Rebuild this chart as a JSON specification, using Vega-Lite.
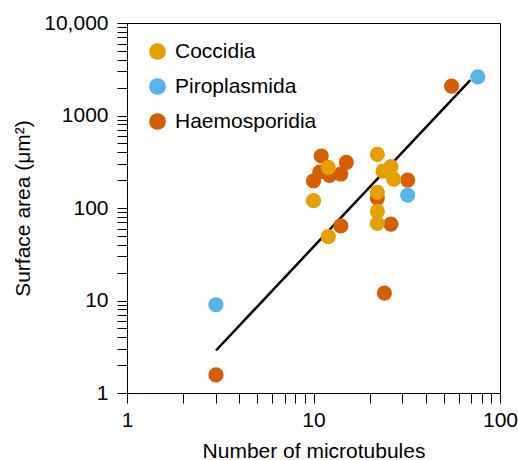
{
  "$schema": "https://vega.github.io/schema/vega-lite/v6.json",
  "width": 373,
  "height": 370,
  "autosize": {"type": "none"},
  "padding": {"left": 127, "top": 23, "right": 18, "bottom": 67},
  "background": "white",
  "config": {
    "font": "Liberation Sans",
    "view": {"stroke": "black", "strokeWidth": 1},
    "axis": {
      "domainColor": "black",
      "tickColor": "black",
      "labelColor": "black",
      "titleColor": "black",
      "labelFontSize": 21,
      "titleFontSize": 21,
      "titleFontWeight": "normal",
      "grid": false,
      "labelFont": "Liberation Sans",
      "titleFont": "Liberation Sans"
    }
  },
  "datasets": {
    "points": [
      {"microtubules": 11, "area": 365, "group": "Haemosporidia"},
      {"microtubules": 15, "area": 312, "group": "Haemosporidia"},
      {"microtubules": 10, "area": 196, "group": "Haemosporidia"},
      {"microtubules": 10.8, "area": 245, "group": "Haemosporidia"},
      {"microtubules": 12.2, "area": 225, "group": "Haemosporidia"},
      {"microtubules": 14, "area": 233, "group": "Haemosporidia"},
      {"microtubules": 14, "area": 64, "group": "Haemosporidia"},
      {"microtubules": 26, "area": 67, "group": "Haemosporidia"},
      {"microtubules": 24, "area": 12, "group": "Haemosporidia"},
      {"microtubules": 32, "area": 200, "group": "Haemosporidia"},
      {"microtubules": 22, "area": 128, "group": "Haemosporidia"},
      {"microtubules": 55, "area": 2080, "group": "Haemosporidia"},
      {"microtubules": 3, "area": 1.57, "group": "Haemosporidia"},
      {"microtubules": 12, "area": 275, "group": "Coccidia"},
      {"microtubules": 10, "area": 120, "group": "Coccidia"},
      {"microtubules": 12, "area": 49, "group": "Coccidia"},
      {"microtubules": 22, "area": 380, "group": "Coccidia"},
      {"microtubules": 23.6, "area": 250, "group": "Coccidia"},
      {"microtubules": 26, "area": 280, "group": "Coccidia"},
      {"microtubules": 26.9, "area": 205, "group": "Coccidia"},
      {"microtubules": 22, "area": 148, "group": "Coccidia"},
      {"microtubules": 22, "area": 92, "group": "Coccidia"},
      {"microtubules": 22, "area": 68, "group": "Coccidia"},
      {"microtubules": 76, "area": 2620, "group": "Piroplasmida"},
      {"microtubules": 32, "area": 138, "group": "Piroplasmida"},
      {"microtubules": 3, "area": 9.0, "group": "Piroplasmida"}
    ],
    "fit": [
      {"microtubules": 3, "area": 2.88},
      {"microtubules": 69.3, "area": 2417}
    ]
  },
  "layer": [
    {
      "data": {"name": "fit"},
      "mark": {"type": "line", "color": "black", "strokeWidth": 2.5},
      "encoding": {
        "x": {"field": "microtubules", "type": "quantitative", "scale": {"type": "log", "domain": [1, 100]}},
        "y": {"field": "area", "type": "quantitative", "scale": {"type": "log", "domain": [1, 10000]}}
      }
    },
    {
      "data": {"name": "points"},
      "mark": {"type": "circle", "size": 230, "opacity": 1},
      "encoding": {
        "x": {
          "field": "microtubules", "type": "quantitative",
          "scale": {"type": "log", "domain": [1, 100]},
          "axis": {
            "title": "Number of microtubules",
            "values": [1,2,3,4,5,6,7,8,9,10,20,30,40,50,60,70,80,90,100],
            "labelExpr": "indexof([1,10,100], datum.value) >= 0 ? format(datum.value, 'd') : ''",
            "ticks": true,
            "tickSize": 10,
            "tickWidth": 1,
            "encode": {"ticks": {"update": {"y2": {"signal": "indexof([1,10,100], datum.value) >= 0 ? 10 : 5"}}}},
            "labelPadding": 6,
            "labelFlush": false,
            "labelOverlap": false,
            "titleBaseline": "alphabetic",
            "titleY": 64
          }
        },
        "y": {
          "field": "area", "type": "quantitative",
          "scale": {"type": "log", "domain": [1, 10000]},
          "axis": {
            "title": "Surface area (μm²)",
            "values": [1,2,3,4,5,6,7,8,9,10,20,30,40,50,60,70,80,90,100,200,300,400,500,600,700,800,900,1000,2000,3000,4000,5000,6000,7000,8000,9000,10000],
            "labelExpr": "datum.value == 10000 ? '10,000' : (indexof([1,10,100,1000], datum.value) >= 0 ? format(datum.value, 'd') : '')",
            "ticks": true,
            "tickSize": 10,
            "tickWidth": 1,
            "encode": {"ticks": {"update": {"x2": {"signal": "indexof([1,10,100,1000,10000], datum.value) >= 0 ? -10 : -6"}}}},
            "labelPadding": 9,
            "labelFlush": false,
            "labelOverlap": false,
            "titleBaseline": "alphabetic",
            "titleAngle": -90,
            "titleAlign": "center",
            "titleX": -98,
            "titleY": 185
          }
        },
        "color": {
          "field": "group", "type": "nominal",
          "scale": {"domain": ["Coccidia", "Piroplasmida", "Haemosporidia"], "range": ["#E69F00", "#56B4E9", "#D55E00"]},
          "legend": {
            "title": null,
            "orient": "none",
            "legendX": 20,
            "legendY": 18,
            "padding": 0,
            "symbolType": "circle",
            "symbolSize": 280,
            "symbolStrokeWidth": 0,
            "labelFontSize": 21,
            "labelFont": "Liberation Sans",
            "labelColor": "black",
            "labelOffset": 7,
            "rowPadding": 13,
            "encode": {"symbols": {"update": {"size": {"value": 280}, "strokeWidth": {"value": 0}, "opacity": {"value": 1}}}}
          }
        }
      }
    },
    {
      "mark": {"type": "text", "text": "r", "fontStyle": "italic", "fontSize": 21, "align": "left", "baseline": "alphabetic", "color": "black"},
      "encoding": {
        "x": {"datum": 25.3, "type": "quantitative"},
        "y": {"datum": 1.88, "type": "quantitative"}
      }
    },
    {
      "mark": {"type": "text", "text": "² = 0.878", "fontSize": 21, "align": "left", "baseline": "alphabetic", "color": "black", "dx": 7},
      "encoding": {
        "x": {"datum": 25.3, "type": "quantitative"},
        "y": {"datum": 1.88, "type": "quantitative"}
      }
    }
  ]
}
